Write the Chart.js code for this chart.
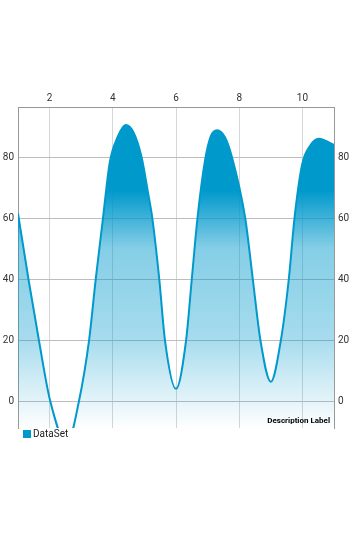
<!DOCTYPE html>
<html>
<head>
<meta charset="utf-8">
<script src="https://cdn.jsdelivr.net/npm/chart.js@4/dist/chart.umd.min.js"></script>
<style>
  html, body { margin: 0; padding: 0; background: #fff; }
  #wrap { width: 354px; height: 559px; position: relative; }
</style>
</head>
<body>
<div id="wrap"><canvas id="chart"></canvas></div>
<script>
// values
const xs = [1, 1.33, 1.66, 2.02, 2.55, 2.93, 3.25, 3.46, 3.69, 3.9, 4.15, 4.41, 4.66, 4.91, 5.12, 5.25, 5.47, 5.65, 6.0,
            6.32, 6.5, 6.68, 6.92, 7.1, 7.3, 7.55, 7.77, 8.19, 8.43, 8.67, 9.0, 9.32, 9.57, 9.75, 9.99, 10.25, 10.52, 10.9, 11];
const ys = [61.5, 40, 20, 0, -14, 0, 20, 40, 60, 78, 86.5, 90.5, 88, 80, 68, 60, 40, 20, 4,
            20, 40, 60, 79, 86.8, 88.8, 86.5, 80, 60, 40, 20, 6.3, 20, 40, 60, 77.5, 83.8, 86, 84.5, 84];
const xTicks = [2, 4, 6, 8, 10];
const yTicks = [0, 20, 40, 60, 80];
const seriesName = 'DataSet';
const description = 'Description Label';

const blue = '#0099cc';
const font = 'Roboto';

function fillGradient(ctx) {
    const area = ctx.chart.chartArea;
    if (!area) return 'rgba(0,153,204,0.5)';
    const g = ctx.chart.ctx.createLinearGradient(0, area.top, 0, area.bottom);
    g.addColorStop(0, 'rgba(0,153,204,1)');
    g.addColorStop(0.26, 'rgba(0,153,204,1)');
    g.addColorStop(0.44, 'rgba(0,153,204,0.48)');
    g.addColorStop(0.72, 'rgba(0,153,204,0.35)');
    g.addColorStop(0.92, 'rgba(0,153,204,0.1)');
    g.addColorStop(1, 'rgba(0,153,204,0)');
    return g;
}

const extras = {
    id: 'extras',
    afterDraw(chart) {
        const c = chart.ctx;
        const a = chart.chartArea;
        c.save();
        c.fillStyle = '#000';
        c.font = 'bold 8px ' + font;
        c.textAlign = 'right';
        c.textBaseline = 'alphabetic';
        c.fillText(description, a.right - 4, a.bottom - 5);
        c.fillStyle = blue;
        c.fillRect(a.left + 5, a.bottom + 2, 8, 8);
        c.fillStyle = '#222';
        c.font = '10px ' + font;
        c.textAlign = 'left';
        c.textBaseline = 'middle';
        c.fillText(seriesName, a.left + 15, a.bottom + 6);
        c.restore();
    }
};

new Chart(document.getElementById('chart'), {
    type: 'line',
    data: {
        datasets: [{
            label: seriesName,
            data: xs.map((x, i) => ({ x: x, y: ys[i] })),
            borderColor: blue,
            borderWidth: 2,
            pointRadius: 0,
            cubicInterpolationMode: 'monotone',
            fill: 'start',
            backgroundColor: fillGradient
        }]
    },
    options: {
        responsive: true,
        maintainAspectRatio: false,
        animation: false,
        layout: { padding: { top: 0, left: 0, right: 0, bottom: 131 } },
        plugins: { legend: { display: false }, tooltip: { enabled: false } },
        scales: {
            x: {
                type: 'linear',
                position: 'top',
                min: 1,
                max: 11,
                afterBuildTicks: s => { s.ticks = xTicks.map(v => ({ value: v })); },
                afterFit: s => { s.height = 107; },
                grid: { color: '#d6d6d6', drawTicks: false },
                border: { color: '#999' },
                ticks: { padding: 3, color: '#333', font: { family: font, size: 10 } }
            },
            y: {
                position: 'left',
                min: -8.85,
                max: 96.4,
                afterBuildTicks: s => { s.ticks = yTicks.map(v => ({ value: v })); },
                afterFit: s => { s.width = 18; },
                grid: { color: '#bdbdbd', drawTicks: false },
                border: { color: '#999' },
                ticks: { padding: 4, color: '#333', font: { family: font, size: 10 } }
            },
            y2: {
                position: 'right',
                min: -8.85,
                max: 96.4,
                afterBuildTicks: s => { s.ticks = yTicks.map(v => ({ value: v })); },
                afterFit: s => { s.width = 20; },
                grid: { display: false, drawTicks: false },
                border: { color: '#999' },
                ticks: { padding: 4, color: '#333', font: { family: font, size: 10 } }
            }
        }
    },
    plugins: [extras]
});
</script>
</body>
</html>
